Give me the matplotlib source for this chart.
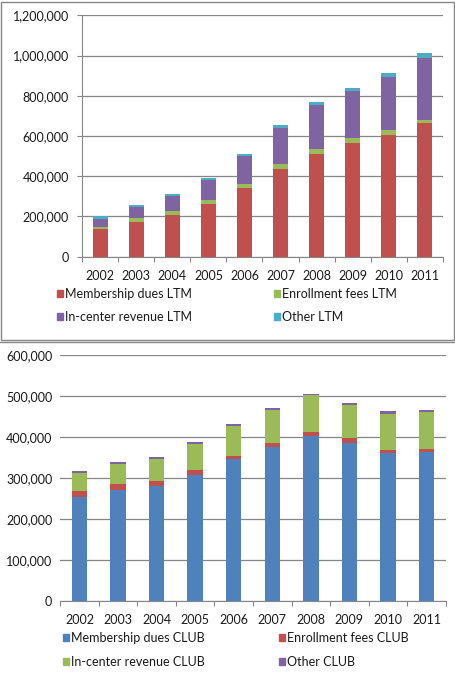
import matplotlib
matplotlib.use("Agg")
import matplotlib.pyplot as plt
from matplotlib.patches import Patch
from matplotlib.lines import Line2D
from matplotlib.ticker import FuncFormatter, FixedLocator
import numpy as np

years = ["2002", "2003", "2004", "2005", "2006", "2007", "2008", "2009", "2010", "2011"]

# Top chart (LTM)
ltm_membership = [136000, 174000, 207000, 264000, 343000, 436000, 512000, 567000, 607000, 665000]
ltm_enrollment = [13000, 20000, 22000, 18000, 20000, 25000, 24000, 23000, 23000, 15000]
ltm_incenter = [40000, 51000, 73000, 99000, 139000, 181000, 219000, 236000, 264000, 308000]
ltm_other = [13000, 12000, 10000, 10000, 10000, 13000, 14000, 13000, 20000, 25000]

# Bottom chart (CLUB)
club_membership = [255000, 272000, 282000, 309000, 346000, 376000, 402000, 387000, 361000, 365000]
club_enrollment = [14000, 14000, 11000, 11000, 8000, 10000, 10000, 12000, 8000, 7000]
club_incenter = [45000, 49000, 55000, 64000, 74000, 81000, 90000, 79000, 89000, 90000]
club_other = [4000, 5000, 4000, 5000, 4000, 5000, 4000, 6000, 5000, 5000]

RED = "#C0504D"
GREEN = "#9BBB59"
PURPLE = "#8064A2"
CYAN = "#4BACC6"
BLUE = "#4F81BD"
GRID = "#868686"
TXT = "#1a1a1a"

plt.rcParams['font.family'] = ['Lato', 'DejaVu Sans']
plt.rcParams['text.color'] = TXT
plt.rcParams['xtick.labelcolor'] = TXT
plt.rcParams['ytick.labelcolor'] = TXT
FS = 9.0

W, H = 456, 679
fig = plt.figure(figsize=(W / 100, H / 100), dpi=100)

def fx(px):
    return px / W

def fy(py):
    return 1 - py / H

fmt = FuncFormatter(lambda v, p: f"{int(v):,}")

def stack(ax, series, colors, labels, xpad):
    x = np.arange(len(years))
    bottom = np.zeros(len(years))
    for vals, c, l in zip(series, colors, labels):
        ax.bar(x, vals, width=0.4, bottom=bottom, color=c, label=l, zorder=3)
        bottom = bottom + np.array(vals)
    ax.set_xlim(-0.5, len(years) - 0.5)
    ax.set_xticks(x)
    ax.set_xticklabels(years, fontsize=FS)
    ax.xaxis.set_minor_locator(FixedLocator(np.arange(-0.5, len(years), 1.0)))
    ax.tick_params(axis='x', which='major', length=0, pad=xpad)
    ax.tick_params(axis='x', which='minor', length=3.6, color=GRID, width=0.8)
    ax.tick_params(axis='y', labelsize=FS, color=GRID, length=3.6, width=0.8, pad=6)
    ax.yaxis.set_major_formatter(fmt)
    ax.grid(axis='y', color=GRID, linewidth=0.9, zorder=0)
    for s in ['top', 'right']:
        ax.spines[s].set_visible(False)
    ax.spines['bottom'].set_color(GRID)
    ax.spines['left'].set_color(GRID)
    ax.set_axisbelow(True)

def legend_col(handles, labels, x_px, y_px, spacing):
    leg = fig.legend(handles, labels, loc='upper left',
                     bbox_to_anchor=(fx(x_px), fy(y_px)),
                     bbox_transform=fig.transFigure,
                     frameon=False, fontsize=FS, borderpad=0, borderaxespad=0,
                     handlelength=0.48, handleheight=0.48, handletextpad=0.15,
                     labelspacing=spacing)
    return leg

# ---------- Top chart ----------
ax1 = fig.add_axes([fx(82.3), fy(256.7), fx(442.7 - 82.3), (256.7 - 15.3) / H])
labels1 = ["Membership dues LTM", "Enrollment fees LTM", "In-center revenue LTM", "Other LTM"]
colors1 = [RED, GREEN, PURPLE, CYAN]
stack(ax1, [ltm_membership, ltm_enrollment, ltm_incenter, ltm_other], colors1, labels1, 9.4)
ax1.set_ylim(0, 1200000)
ax1.set_yticks(np.arange(0, 1200001, 200000))
h1 = [Patch(color=c) for c in colors1]
legend_col([h1[0], h1[2]], [labels1[0], labels1[2]], 57.5, 288, 0.87)
legend_col([h1[1], h1[3]], [labels1[1], labels1[3]], 274.5, 288, 0.87)

# border around top panel
fig.add_artist(plt.Rectangle((fx(1.5), fy(339.5)), fx(454 - 1.5), (339.5 - 1.5) / H,
                             transform=fig.transFigure, fill=False,
                             edgecolor=GRID, linewidth=1.0))
# top line of bottom panel
fig.add_artist(Line2D([0, 1], [fy(342), fy(342)], transform=fig.transFigure,
                      color=GRID, linewidth=1.0))

# ---------- Bottom chart ----------
ax2 = fig.add_axes([fx(60.3), fy(601.3), fx(445.7 - 60.3), (601.3 - 355.3) / H])
labels2 = ["Membership dues CLUB", "Enrollment fees CLUB", "In-center revenue CLUB", "Other CLUB"]
colors2 = [BLUE, RED, GREEN, PURPLE]
stack(ax2, [club_membership, club_enrollment, club_incenter, club_other], colors2, labels2, 8.8)
ax2.set_ylim(0, 600000)
ax2.set_yticks(np.arange(0, 600001, 100000))
ax2.spines['left'].set_visible(False)
ax2.tick_params(axis='y', length=0, pad=5.8)
h2 = [Patch(color=c) for c in colors2]
legend_col([h2[0], h2[2]], [labels2[0], labels2[2]], 63.5, 632, 0.93)
legend_col([h2[1], h2[3]], [labels2[1], labels2[3]], 279.5, 632, 0.93)

fig.savefig("out.png", dpi=100)
